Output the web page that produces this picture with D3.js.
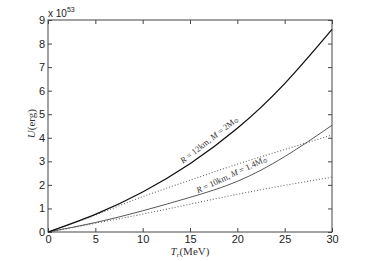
<!DOCTYPE html>
<html>
<head>
<meta charset="utf-8">
<script src="https://cdn.jsdelivr.net/npm/d3@7"></script>
<style>
  body { margin: 0; background: #fff; }
  svg { display: block; }
  .tick text { font-family: "Liberation Sans", Arial, sans-serif; font-size: 11px; fill: #222; }
  .lbl { font-family: "Liberation Serif", "DejaVu Serif", serif; fill: #333; }
</style>
</head>
<body>
<svg id="chart" width="367" height="261"></svg>
<script>
"use strict";
(function () {

    // T_r (MeV)
    const temps = [0, 5, 10, 15, 20, 25, 30];
    // U in units of 1e53 erg
    const heavySolid = [0, 0.75, 1.7, 2.9, 4.4, 6.3, 8.6];      // R = 12km, M = 2 Msun
    const heavyDotted = [0, 0.72, 1.5, 2.2, 2.88, 3.5, 4.12];
    const lightSolid = [0, 0.4, 0.9, 1.47, 2.15, 3.2, 4.53];    // R = 10km, M = 1.4 Msun
    const lightDotted = [0, 0.37, 0.76, 1.18, 1.6, 1.98, 2.33];

    const xTicks = [0, 5, 10, 15, 20, 25, 30];
    const yTicks = [0, 1, 2, 3, 4, 5, 6, 7, 8, 9];

    const M = { left: 48, right: 35, top: 20, bottom: 29 };
    const W = 367, H = 261;

    const svg = d3.select("#chart");

    const x = d3.scaleLinear().domain([0, 30]).range([M.left, W - M.right]);
    const y = d3.scaleLinear().domain([0, 9]).range([H - M.bottom, M.top]);

    const axisColor = "#444";

    function styleAxis(g) {
        g.select(".domain").remove();
        g.selectAll(".tick line").attr("stroke", axisColor);
    }

    svg.append("g")
        .attr("transform", `translate(0,${y(0)})`)
        .call(d3.axisBottom(x).tickValues(xTicks).tickSizeInner(-4).tickSizeOuter(0).tickPadding(3))
        .call(styleAxis);

    svg.append("g")
        .attr("transform", `translate(0,${y(9)})`)
        .call(d3.axisTop(x).tickValues(xTicks).tickSizeInner(-4).tickSizeOuter(0).tickFormat(""))
        .call(styleAxis);

    svg.append("g")
        .attr("transform", `translate(${x(0)},0)`)
        .call(d3.axisLeft(y).tickValues(yTicks).tickSizeInner(-4).tickSizeOuter(0).tickPadding(3))
        .call(styleAxis);

    svg.append("g")
        .attr("transform", `translate(${x(30)},0)`)
        .call(d3.axisRight(y).tickValues(yTicks).tickSizeInner(-4).tickSizeOuter(0).tickFormat(""))
        .call(styleAxis);

    svg.append("rect")
        .attr("x", x(0)).attr("y", y(9))
        .attr("width", x(30) - x(0)).attr("height", y(0) - y(9))
        .attr("fill", "none").attr("stroke", axisColor).attr("stroke-width", 1);

    const line = d3.line()
        .x(d => x(d[0]))
        .y(d => y(d[1]))
        .curve(d3.curveNatural);

    const series = [
        { vals: heavyDotted, color: "#666", width: 1.1, dash: "1,2" },
        { vals: lightDotted, color: "#666", width: 1.1, dash: "1,2" },
        { vals: lightSolid, color: "#444", width: 0.9, dash: null },
        { vals: heavySolid, color: "#111", width: 1.3, dash: null }
    ];

    svg.append("g")
        .selectAll("path")
        .data(series)
        .enter()
        .append("path")
        .attr("d", s => line(temps.map((t, i) => [t, s.vals[i]])))
        .attr("fill", "none")
        .attr("stroke", s => s.color)
        .attr("stroke-width", s => s.width)
        .attr("stroke-dasharray", s => s.dash);

    // curve labels, sitting just above their curves
    function curveLabel(tx, ty, angle, radius, mass) {
        const t = svg.append("text")
            .attr("class", "lbl")
            .attr("font-size", 8.5)
            .attr("text-anchor", "middle")
            .attr("transform", `translate(${tx},${ty}) rotate(${angle})`);
        t.append("tspan").attr("font-style", "italic").text("R");
        t.append("tspan").text(` = ${radius}km, `);
        t.append("tspan").attr("font-style", "italic").text("M");
        t.append("tspan").text(` = ${mass}M`);
        t.append("tspan").attr("font-size", 6).attr("dy", 1).text("\u2299");
    }
    curveLabel(211, 142, -38, 12, 2);
    curveLabel(233, 177, -25, 10, 1.4);

    // multiplier
    const mult = svg.append("text")
        .attr("x", 48).attr("y", 17)
        .attr("font-family", "Liberation Sans, Arial, sans-serif")
        .attr("font-size", 10)
        .attr("fill", "#222");
    mult.append("tspan").text("x 10");
    mult.append("tspan").attr("font-size", 7).attr("dy", -5).text("53");

    // axis titles
    const xt = svg.append("text")
        .attr("class", "lbl")
        .attr("x", x(15)).attr("y", 255)
        .attr("text-anchor", "middle")
        .attr("font-size", 11);
    xt.append("tspan").attr("font-style", "italic").text("T");
    xt.append("tspan").attr("font-style", "italic").attr("font-size", 7).attr("dy", 2).text("r");
    xt.append("tspan").attr("dy", -2).text("(MeV)");

    const yt = svg.append("text")
        .attr("class", "lbl")
        .attr("transform", `translate(35,${y(4.6)}) rotate(-90)`)
        .attr("text-anchor", "middle")
        .attr("font-size", 11);
    yt.append("tspan").attr("font-style", "italic").text("U");
    yt.append("tspan").text("(erg)");
})();
</script>
</body>
</html>
